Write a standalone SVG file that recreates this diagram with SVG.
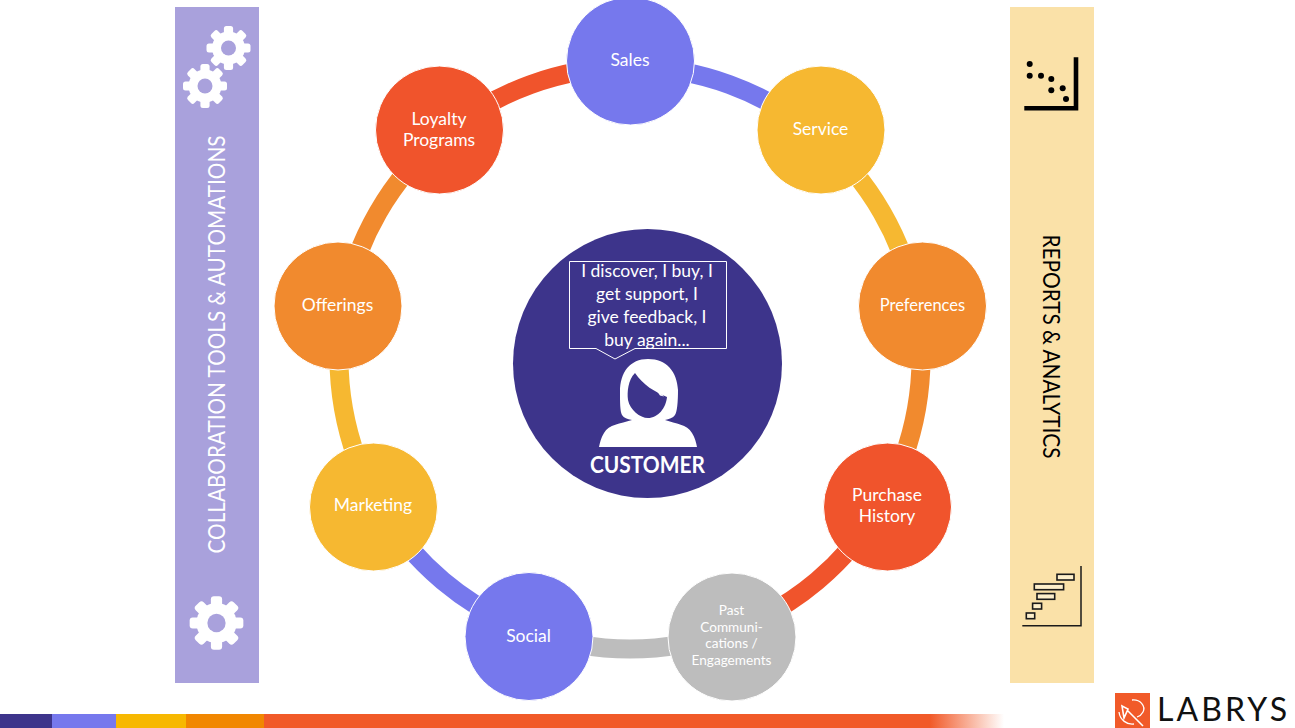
<svg xmlns="http://www.w3.org/2000/svg" width="1295" height="728" viewBox="0 0 1295 728">
<style>
text{font-family:Lato,"Open Sans","Liberation Sans",sans-serif;fill:#fff;text-anchor:middle}
.n{font-size:17.5px}
.s{font-size:13.6px}
.b{font-size:17.5px}
.ring{fill:none;stroke-width:19}
.node{stroke:#fff;stroke-width:1}
.bar{fill:#FDEFCB;stroke:#1a1a1a;stroke-width:1.6}
</style>
<defs>
<linearGradient id="fade" gradientUnits="userSpaceOnUse" x1="264" y1="0" x2="1004" y2="0"><stop offset="0" stop-color="#F15A29"/><stop offset="0.9" stop-color="#F15A29"/><stop offset="1" stop-color="#F15A29" stop-opacity="0"/></linearGradient>
<g id="gear">
<circle r="16.5" fill="#fff"/>
<g fill="#fff">
<rect x="-4.6" y="-22" width="9.2" height="44" rx="2.5"/>
<rect x="-4.6" y="-22" width="9.2" height="44" rx="2.5" transform="rotate(45)"/>
<rect x="-4.6" y="-22" width="9.2" height="44" rx="2.5" transform="rotate(90)"/>
<rect x="-4.6" y="-22" width="9.2" height="44" rx="2.5" transform="rotate(135)"/>
</g>
<circle r="7.5" fill="#A9A1DC"/>
</g>
</defs>
<rect width="1295" height="728" fill="#fff"/>
<g id="left-panel">
<rect x="175" y="7" width="84" height="676" fill="#A9A1DC"/>
<use href="#gear" x="228.5" y="48"/>
<use href="#gear" x="205" y="86"/>
<use href="#gear" transform="translate(216.5 623) scale(1.22)"/>
<text transform="translate(225 344.5) rotate(-90)" font-size="23.5" textLength="418" lengthAdjust="spacingAndGlyphs">COLLABORATION TOOLS &amp; AUTOMATIONS</text>
</g>
<g id="right-panel">
<rect x="1010" y="7" width="84" height="676" fill="#FAE1A8"/>
<path d="M1024.3 108.3H1076V57.3" fill="none" stroke="#000" stroke-width="4.6"/>
<g fill="#000">
<circle cx="1029.7" cy="64" r="3"/><circle cx="1029.7" cy="75.7" r="3"/><circle cx="1041" cy="75.7" r="3"/><circle cx="1051.3" cy="79" r="3"/><circle cx="1051.3" cy="90.3" r="3"/><circle cx="1062.7" cy="88.3" r="3"/><circle cx="1066" cy="99" r="3"/>
</g>
<path d="M1022.3 625.7H1081V566" fill="none" stroke="#1a1a1a" stroke-width="1.5"/>
<rect class="bar" x="1057" y="574.3" width="17" height="5.7"/>
<rect class="bar" x="1034.3" y="584" width="29.3" height="5.7"/>
<rect class="bar" x="1037" y="593.6" width="17.7" height="5.7"/>
<rect class="bar" x="1032.6" y="603.3" width="9" height="5.7"/>
<rect class="bar" x="1026.3" y="613" width="8.4" height="5.7"/>
<text transform="translate(1042.7 346.5) rotate(90)" font-size="23.5" style="fill:#000" textLength="224" lengthAdjust="spacingAndGlyphs">REPORTS &amp; ANALYTICS</text>
</g>
<g id="connectors">
<path class="ring" stroke="#7678ED" d="M630 67A291.5 291.5 0 0 1 817.1 135.1"/>
<path class="ring" stroke="#F6B831" d="M817.1 135.1A291.5 291.5 0 0 1 916.6 307.5"/>
<path class="ring" stroke="#F18A2E" d="M916.6 307.5A291.5 291.5 0 0 1 882 503.5"/>
<path class="ring" stroke="#F0542C" d="M882 503.5A291.5 291.5 0 0 1 729.5 631.5"/>
<path class="ring" stroke="#BDBDBD" d="M729.5 631.5A291.5 291.5 0 0 1 530.5 631.5"/>
<path class="ring" stroke="#7678ED" d="M530.5 631.5A291.5 291.5 0 0 1 378 503.5"/>
<path class="ring" stroke="#F6B831" d="M378 503.5A291.5 291.5 0 0 1 343.4 307.5"/>
<path class="ring" stroke="#F18A2E" d="M343.4 307.5A291.5 291.5 0 0 1 442.9 135.1"/>
<path class="ring" stroke="#F0542C" d="M442.9 135.1A291.5 291.5 0 0 1 630 67"/>
</g>
<g id="sales"><circle class="node" cx="630.5" cy="61" r="64" fill="#7678ED"/><text class="n" x="630" y="66">Sales</text></g>
<g id="service"><circle class="node" cx="821" cy="130" r="64" fill="#F6B831"/><text class="n" x="820.5" y="135">Service</text></g>
<g id="preferences"><circle class="node" cx="922.5" cy="306" r="64" fill="#F18A2E"/><text class="n" x="922.5" y="311" style="font-size:16.5px">Preferences</text></g>
<g id="purchase-history"><circle class="node" cx="887.5" cy="507" r="64" fill="#F0542C"/><text class="n" x="887" y="501">Purchase</text><text class="n" x="887" y="522">History</text></g>
<g id="past-communications"><circle class="node" cx="732" cy="637" r="64" fill="#BDBDBD"/><text class="s" x="731.5" y="615">Past</text><text class="s" x="731.5" y="632">Communi-</text><text class="s" x="731.5" y="648">cations /</text><text class="s" x="731.5" y="665">Engagements</text></g>
<g id="social"><circle class="node" cx="529" cy="636.5" r="64" fill="#7678ED"/><text class="n" x="528.5" y="642">Social</text></g>
<g id="marketing"><circle class="node" cx="373.5" cy="507" r="64" fill="#F6B831"/><text class="n" x="373" y="511">Marketing</text></g>
<g id="offerings"><circle class="node" cx="338" cy="306" r="64" fill="#F18A2E"/><text class="n" x="337.5" y="311">Offerings</text></g>
<g id="loyalty-programs"><circle class="node" cx="439.5" cy="130" r="64" fill="#F0542C"/><text class="n" x="439" y="125">Loyalty</text><text class="n" x="439" y="146">Programs</text></g>
<g id="customer">
<circle cx="647.5" cy="363.5" r="134.5" fill="#3D348B"/>
<path d="M569.5 261.5H726.5V348.5H635L615 359L596 348.5H569.5Z" fill="#3D348B" stroke="#fff" stroke-width="1"/>
<text class="b" x="647" y="277">I discover, I buy, I</text>
<text class="b" x="647" y="300">get support, I</text>
<text class="b" x="647" y="323">give feedback, I</text>
<text class="b" x="647" y="346">buy again...</text>
<path fill="#fff" d="M648 359C667 359 677 372 678 390C678 402 677 412 675 415C673 418 669 419 665 420C676 424 687 424 692 433C695 438 696 442 697 447H599C600 442 601 438 604 433C609 424 620 424 632 420C627 419 624 418 622 415C620 411 620 402 620 392C620 372 630 359 648 359Z"/>
<path fill="#3D348B" d="M635 373C628 380 627 392 628 400C630 410 640 418 648 418C658 418 666 408 667 397C655 392 643 385 635 373Z"/>
<path fill="#fff" d="M654 387L664 396.5L660 395.5Z"/>
<text x="647.5" y="473" font-size="22.5" font-weight="700" textLength="115" lengthAdjust="spacingAndGlyphs">CUSTOMER</text>
</g>
<g id="footer">
<rect x="0" y="714" width="52" height="14" fill="#3D348B"/>
<rect x="52" y="714" width="64" height="14" fill="#7678ED"/>
<rect x="116" y="714" width="70" height="14" fill="#F7B801"/>
<rect x="186" y="714" width="78" height="14" fill="#F18701"/>
<rect x="264" y="714" width="740" height="14" fill="url(#fade)"/>
</g>
<g id="logo">
<rect x="1115" y="693" width="35" height="35" fill="#F15A29"/>
<path d="M1132 700C1140 699 1146 706 1143 712C1142 714 1140 716 1137 717M1119 712C1120 720 1127 725 1134 724" fill="none" stroke="#fff" stroke-width="1.3"/>
<path d="M1127 710L1143 726M1122 706L1128 709L1124 718Z" fill="none" stroke="#fff" stroke-width="1.6"/>
<text x="1222" y="721" font-size="32" style="fill:#111" textLength="130" lengthAdjust="spacing">LABRYS</text>
</g>
</svg>
